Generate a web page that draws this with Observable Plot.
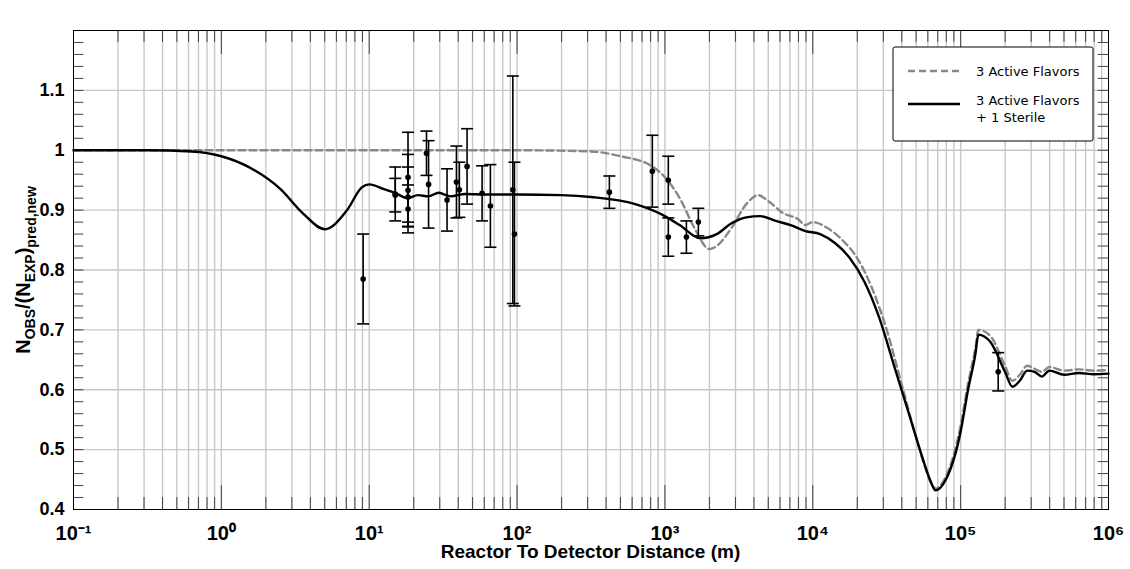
<!DOCTYPE html>
<html><head><meta charset="utf-8">
<script src="https://cdn.jsdelivr.net/npm/d3@7"></script>
<script src="https://cdn.jsdelivr.net/npm/@observablehq/plot@0.6"></script>
<style>body{margin:0;background:#fff}</style>
</head><body><div id="c"></div>
<script>
const solidLog = [-1,-0.5,-0.2,0,0.2,0.4,0.55,0.7,0.85,0.95,1.0,1.1,1.18,1.26,1.33,1.4,1.47,1.55,1.65,1.8,2.0,2.3,2.5,2.8,3.0,3.1,3.24,3.35,3.45,3.55,3.645,3.75,3.85,3.95,4.05,4.15,4.25,4.35,4.45,4.55,4.65,4.75,4.8,4.83,4.9,5.0,5.05,5.1,5.12,5.2,5.3,5.35,5.4,5.45,5.5,5.55,5.6,5.7,5.8,5.9,6.0];
const solidVal = [1.0,1.0,0.998,0.99,0.97,0.935,0.895,0.868,0.9,0.938,0.943,0.935,0.928,0.92,0.925,0.923,0.929,0.923,0.927,0.926,0.926,0.925,0.922,0.91,0.89,0.875,0.853,0.86,0.878,0.888,0.89,0.882,0.875,0.865,0.86,0.845,0.82,0.78,0.72,0.64,0.56,0.48,0.445,0.432,0.45,0.53,0.6,0.66,0.692,0.68,0.63,0.605,0.615,0.632,0.63,0.622,0.632,0.625,0.628,0.626,0.627];
const dashLog = [-1,0,1,2,2.5,2.7,2.9,3.0,3.1,3.2,3.3,3.35,3.45,3.55,3.63,3.7,3.8,3.9,3.95,4.0,4.1,4.2,4.3,4.4,4.5,4.6,4.7,4.8,4.83,4.9,5.0,5.05,5.1,5.12,5.2,5.3,5.35,5.4,5.45,5.5,5.55,5.6,5.7,5.8,5.9,6.0];
const dashVal = [1.0,1.0,1.0,1.0,0.998,0.99,0.975,0.955,0.92,0.87,0.835,0.84,0.87,0.91,0.925,0.915,0.895,0.885,0.875,0.88,0.87,0.85,0.82,0.77,0.7,0.61,0.52,0.445,0.435,0.455,0.54,0.61,0.67,0.7,0.69,0.64,0.615,0.625,0.64,0.635,0.63,0.638,0.632,0.634,0.632,0.633];
const ptX = [9.1,15,15,18.3,18.3,18.3,18.3,24.4,25.2,33.6,38.9,40.7,45.9,58,66,93.6,96,421,822,1054,1054,1397,1683,179500];
const ptY = [0.785,0.927,0.925,0.955,0.933,0.922,0.902,0.995,0.943,0.917,0.947,0.934,0.973,0.928,0.907,0.934,0.86,0.93,0.965,0.95,0.855,0.855,0.88,0.63];
const ptE = [0.075,0.045,0.028,0.075,0.06,0.05,0.04,0.037,0.073,0.052,0.06,0.046,0.063,0.046,0.069,0.19,0.12,0.027,0.06,0.04,0.032,0.027,0.023,0.032];
const yTicks = [0.4,0.5,0.6,0.7,0.8,0.9,1.0,1.1];
const xTickLabels = ["10⁻¹","10⁰","10¹","10²","10³","10⁴","10⁵","10⁶"];

const solid = solidLog.map((l,i)=>({x:Math.pow(10,l),y:solidVal[i]}));
const dash = dashLog.map((l,i)=>({x:Math.pow(10,l),y:dashVal[i]}));
const pts = ptX.map((x,i)=>({x,y:ptY[i],e:ptE[i]}));
const major = d3.range(-1,7).map(e=>Math.pow(10,e));
const majorLab = major.map((x,i)=>({x,t:xTickLabels[i]}));
const minor = [];
for (let e=-1;e<6;e++) for (let k=2;k<=9;k++) minor.push(k*Math.pow(10,e));
const cap = 1.098;

const chart = Plot.plot({
  width:1130, height:569, marginLeft:73, marginRight:22, marginTop:30, marginBottom:60,
  style:{fontFamily:"Liberation Sans, Arial, sans-serif", background:"#fff"},
  x:{type:"log", domain:[0.1,1e6], axis:null},
  y:{domain:[0.4,1.2], ticks:yTicks, tickFormat:d=>d===1?"1":d3.format(".1f")(d), tickSize:0, label:null},
  marks:[
    Plot.ruleX(minor.concat(major.slice(1,7)),{stroke:"#c8c8c8",strokeWidth:1.4}),
    Plot.ruleY(yTicks.slice(1),{stroke:"#c8c8c8",strokeWidth:1.4}),
    Plot.ruleX(minor,{y1:0.4,y2:0.42,stroke:"#444"}),
    Plot.ruleX(minor,{y1:1.2,y2:1.18,stroke:"#444"}),
    Plot.ruleX(major,{y1:0.4,y2:0.44,stroke:"#444"}),
    Plot.ruleX(major,{y1:1.2,y2:1.16,stroke:"#444"}),
    Plot.ruleY(d3.range(0.42,1.2,0.02),{x1:0.1,x2:0.1*Math.pow(10,0.07),stroke:"#444"}),
    Plot.ruleY(d3.range(0.42,1.2,0.02),{x1:1e6,x2:1e6/Math.pow(10,0.07),stroke:"#444"}),
    Plot.line(dash,{x:"x",y:"y",stroke:"#888",strokeWidth:2.4,strokeDasharray:"7,4",curve:"monotone-x"}),
    Plot.line(solid,{x:"x",y:"y",stroke:"#000",strokeWidth:2.4,curve:"monotone-x"}),
    Plot.ruleX(pts,{x:"x",y1:d=>d.y-d.e,y2:d=>d.y+d.e,stroke:"#000",strokeWidth:1.6}),
    Plot.link(pts,{x1:d=>d.x/cap,x2:d=>d.x*cap,y1:d=>d.y+d.e,y2:d=>d.y+d.e,stroke:"#000",strokeWidth:1.6}),
    Plot.link(pts,{x1:d=>d.x/cap,x2:d=>d.x*cap,y1:d=>d.y-d.e,y2:d=>d.y-d.e,stroke:"#000",strokeWidth:1.6}),
    Plot.dot(pts,{x:"x",y:"y",r:2.8,fill:"#000"}),
    Plot.text(majorLab,{x:"x",y:0.4,text:"t",dy:24,fontSize:20,fontWeight:"bold",fill:"#000"}),
    Plot.frame({stroke:"#000"})
  ]
});
const svg = d3.select(chart);
svg.selectAll("g[aria-label='y-axis tick label'] text").attr("font-size",18).attr("font-weight","bold");
svg.append("text").attr("x",(73+1108)/2).attr("y",558).attr("text-anchor","middle")
  .attr("font-size",19).attr("font-weight","bold").attr("font-family","Liberation Sans, Arial").text("Reactor To Detector Distance (m)");
const yl = svg.append("text").attr("transform","translate(30,270) rotate(-90)").attr("text-anchor","middle")
  .attr("font-size",20).attr("font-weight","bold").attr("font-family","Liberation Sans, Arial");
yl.append("tspan").text("N");
yl.append("tspan").attr("font-size",14).attr("dy",5).text("OBS");
yl.append("tspan").attr("dy",-5).text("/(N");
yl.append("tspan").attr("font-size",14).attr("dy",5).text("EXP");
yl.append("tspan").attr("dy",-5).text(")");
yl.append("tspan").attr("font-size",14).attr("dy",6).text("pred,new");
const lg = svg.append("g").attr("font-family","DejaVu Sans, sans-serif").attr("font-size",13).attr("text-anchor","start");
lg.append("rect").attr("x",893).attr("y",47).attr("width",200).attr("height",94).attr("rx",2).attr("fill","#fff").attr("stroke","#000");
lg.append("line").attr("x1",908).attr("x2",960).attr("y1",71).attr("y2",71).attr("stroke","#888").attr("stroke-width",2.4).attr("stroke-dasharray","7,4");
lg.append("text").attr("x",976).attr("y",76).text("3 Active Flavors");
lg.append("line").attr("x1",908).attr("x2",960).attr("y1",104).attr("y2",104).attr("stroke","#000").attr("stroke-width",2.4);
lg.append("text").attr("x",976).attr("y",105).text("3 Active Flavors");
lg.append("text").attr("x",976).attr("y",122).text("+ 1 Sterile");
document.getElementById("c").append(chart);
</script></body></html>
